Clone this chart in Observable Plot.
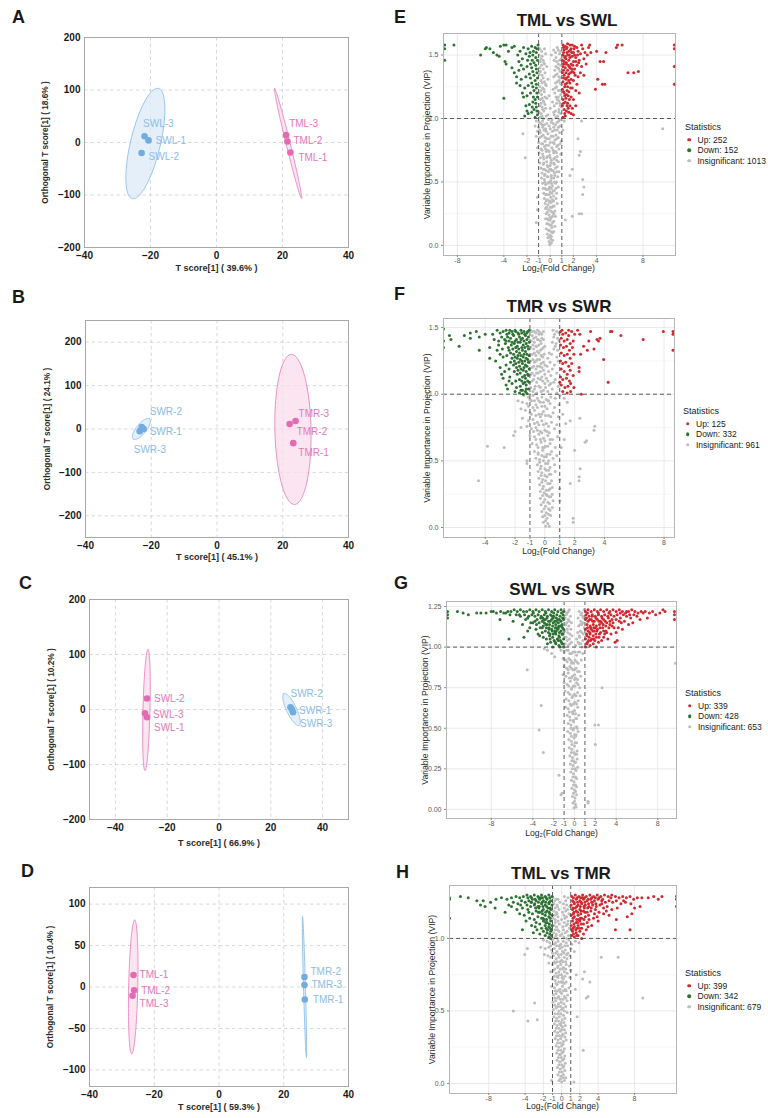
<!DOCTYPE html>
<html>
<head>
<meta charset="utf-8">
<script src="https://cdn.jsdelivr.net/npm/d3@7"></script>
<script src="https://cdn.jsdelivr.net/npm/@observablehq/plot@0.6"></script>
<style>
  body { margin: 0; background: #fff; }
  #page { position: relative; width: 768px; height: 1118px; overflow: hidden; background: #fff;
          font-family: "Liberation Sans", Arial, Helvetica, sans-serif; }
  .abs { position: absolute; white-space: nowrap; line-height: 1; }
  .letter { font-weight: bold; font-size: 18px; color: #1a1a1a; transform: translateY(-50%); }
  .vtitle { font-weight: bold; font-size: 17px; color: #1a1a1a; transform: translate(-50%, -50%); }
  .leg { font-size: 8.5px; color: #1a1a1a; transform: translateY(-50%); }
  .legdot { width: 3.6px; height: 3.6px; border-radius: 50%; transform: translate(-50%, -50%); }
</style>
</head>
<body>
<div id="page"></div>
<script>
// ---------- OPLS-DA score data (T score[1], orthogonal T score[1]) ----------
const samplesA = [
  {id: "SWL-1", group: "SWL", t: -20.6, o: 4},
  {id: "SWL-2", group: "SWL", t: -22.7, o: -20},
  {id: "SWL-3", group: "SWL", t: -21.8, o: 12},
  {id: "TML-1", group: "TML", t: 22.4, o: -19},
  {id: "TML-2", group: "TML", t: 21.5, o: 2},
  {id: "TML-3", group: "TML", t: 21.1, o: 14}
];
const samplesB = [
  {id: "SWR-1", group: "SWR", t: -22.3, o: 0},
  {id: "SWR-2", group: "SWR", t: -22.9, o: 4.6},
  {id: "SWR-3", group: "SWR", t: -23.5, o: -5},
  {id: "TMR-1", group: "TMR", t: 23.2, o: -32.6},
  {id: "TMR-2", group: "TMR", t: 22.1, o: 11.6},
  {id: "TMR-3", group: "TMR", t: 23.9, o: 18.6}
];
const samplesC = [
  {id: "SWL-1", group: "SWL", t: -27.8, o: -14},
  {id: "SWL-2", group: "SWL", t: -27.8, o: 20},
  {id: "SWL-3", group: "SWL", t: -28.6, o: -7},
  {id: "SWR-1", group: "SWR", t: 28.2, o: 0},
  {id: "SWR-2", group: "SWR", t: 27.6, o: 4},
  {id: "SWR-3", group: "SWR", t: 28.6, o: -5}
];
const samplesD = [
  {id: "TML-1", group: "TML", t: -26.4, o: 14.5},
  {id: "TML-2", group: "TML", t: -26.2, o: -4},
  {id: "TML-3", group: "TML", t: -26.7, o: -10.5},
  {id: "TMR-1", group: "TMR", t: 26.5, o: -15},
  {id: "TMR-2", group: "TMR", t: 26.4, o: 12},
  {id: "TMR-3", group: "TMR", t: 26.4, o: 2.5}
];

// confidence ellipses: centre and the two semi-axis vectors, in score units
const ellipsesA = [
  {group: "SWL", cx: -21.55, cy: -2, ax: 3.95, ay: 105, bx: 4.4, by: -6.5},
  {group: "TML", cx: 21.7, cy: -2, ax: -4.1, ay: 105, bx: 0.6, by: 0.9}
];
const ellipsesB = [
  {group: "SWR", cx: -23, cy: 0, ax: 2.48, ay: 23.2, bx: 1.18, by: -7.3},
  {group: "TMR", cx: 23.1, cy: -1, ax: -0.46, ay: 173, bx: 5.5, by: 0}
];
const ellipsesC = [
  {group: "SWL", cx: -28, cy: -1, ax: 0.58, ay: 110, bx: 1.35, by: 0},
  {group: "SWR", cx: 28, cy: 0, ax: -2.9, ay: 29, bx: 1.74, by: 3.8}
];
const ellipsesD = [
  {group: "TML", cx: -26.5, cy: 0, ax: 0.46, ay: 80.7, bx: 1.4, by: 0},
  {group: "TMR", cx: 26.4, cy: 0, ax: -0.6, ay: 85, bx: 0.3, by: 0}
];

const varianceT = ["39.6%", "45.1%", "66.9%", "59.3%"];
const varianceO = ["18.6%", "24.1%", "10.2%", "10.4%"];

// ---------- volcano data: log2 fold change, VIP ----------
const upE = `1.1,1.58 1.3,1.57 1.5,1.59 1.7,1.58 1.9,1.58 2.1,1.57 2.3,1.56 2.7,1.58 3.4,1.58 3.3,1.56
1.2,1.54 1.4,1.55 1.6,1.53 1.8,1.55 2.0,1.52 2.4,1.53 2.6,1.51 2.8,1.55 3.0,1.52 3.2,1.5
1.1,1.5 1.3,1.49 1.5,1.5 1.7,1.48 1.9,1.49 2.2,1.48 2.5,1.46 2.9,1.47 3.5,1.52 1.05,1.46
1.2,1.45 1.4,1.44 1.6,1.46 1.8,1.43 2.0,1.45 2.3,1.42 2.7,1.41 3.1,1.43 1.1,1.41 1.3,1.4
1.5,1.38 1.7,1.4 1.9,1.37 2.1,1.39 2.6,1.36 2.4,1.33 2.9,1.34 1.05,1.36 1.2,1.34 1.4,1.32
1.6,1.35 1.8,1.31 2.0,1.3 2.3,1.27 1.1,1.29 1.3,1.27 1.5,1.25 1.7,1.28 1.9,1.24 2.2,1.22
2.5,1.2 1.05,1.23 1.2,1.2 1.4,1.19 1.6,1.21 1.8,1.17 2.0,1.15 1.1,1.15 1.3,1.13 1.5,1.12
1.7,1.1 1.9,1.08 2.2,1.1 1.05,1.1 1.2,1.07 1.4,1.06 1.6,1.05 1.8,1.04 2.0,1.03 1.3,1.02
1.1,1.01 1.15,1.52 1.35,1.47 1.55,1.42 1.75,1.36 1.25,1.18 1.45,1.28 1.65,1.15 2.15,1.34 2.45,1.44
4.0,1.53 4.3,1.45 4.6,1.45 4.8,1.52 5.7,1.56 5.8,1.58 6.2,1.58 3.9,1.23 4.1,1.31 4.5,1.27
4.7,1.27 6.7,1.36 7.2,1.36 7.6,1.37 10.7,1.58 10.7,1.55 10.7,1.41 10.7,1.27
1.15,1.56 1.45,1.56 1.75,1.54 2.05,1.55 1.25,1.48 1.45,1.52 1.65,1.5 1.85,1.52 2.1,1.5 2.35,1.5
1.15,1.43 1.35,1.43 1.65,1.41 1.95,1.42 2.2,1.45 1.15,1.38 1.35,1.36 1.55,1.33 1.85,1.39 2.05,1.36
1.15,1.32 1.35,1.31 1.6,1.3 1.25,1.25 1.45,1.22 1.75,1.24 1.15,1.21 1.35,1.16 1.55,1.18 1.15,1.12
1.45,1.1 1.25,1.04 1.55,1.08`;
const downE = `-1.05,1.58 -1.3,1.56 -1.6,1.57 -1.9,1.55 -2.3,1.56 -2.6,1.53 -3.1,1.57 -3.3,1.56 -3.6,1.53 -3.8,1.58
-4.0,1.58 -4.3,1.57 -4.6,1.5 -4.4,1.49 -4.9,1.52 -5.2,1.55 -5.5,1.56 -5.6,1.55 -6.0,1.5 -3.9,1.45
-3.8,1.43 -1.2,1.52 -1.5,1.5 -1.8,1.49 -2.1,1.51 -2.4,1.47 -2.8,1.5 -2.7,1.45 -2.5,1.42 -3.3,1.4
-1.1,1.46 -1.4,1.44 -1.7,1.43 -2.0,1.41 -2.3,1.39 -2.7,1.38 -3.1,1.36 -2.9,1.33 -1.2,1.39 -1.5,1.37
-1.8,1.35 -2.1,1.33 -2.5,1.31 -2.9,1.28 -1.1,1.32 -1.3,1.3 -1.6,1.28 -1.9,1.26 -2.2,1.24 -2.6,1.26
-1.2,1.24 -1.4,1.22 -1.7,1.2 -2.0,1.18 -2.3,1.17 -1.1,1.17 -1.3,1.15 -1.5,1.13 -1.8,1.11 -2.1,1.1
-1.2,1.09 -1.4,1.07 -1.6,1.05 -1.9,1.04 -2.2,1.02 -1.1,1.03 -1.3,1.01 -4.0,1.16 -8.3,1.58 -9.1,1.58
-9.1,1.55 -9.1,1.46 -2.4,1.2 -2.0,1.06
-1.15,1.55 -1.45,1.53 -1.75,1.52 -1.25,1.48 -1.55,1.46 -1.95,1.46 -1.25,1.42 -1.6,1.4 -1.15,1.36 -1.4,1.34
-1.7,1.32 -1.2,1.27 -1.5,1.25 -1.15,1.2 -1.45,1.17 -1.25,1.12 -1.55,1.09 -1.15,1.06`;
const nsE = `-0.9,1.55 0.3,1.54 0.6,1.56 0.9,1.53 -0.95,1.5 -0.7,1.49 -0.4,1.51 0.1,1.5 0.5,1.48 0.8,1.51
0.95,1.47 -0.85,1.45 -0.55,1.44 0.35,1.46 0.7,1.43 0.9,1.42 -0.9,1.4 -0.6,1.39 -0.3,1.41 0.4,1.38
0.65,1.4 0.85,1.37 -0.95,1.35 -0.7,1.34 -0.45,1.36 0.3,1.33 0.6,1.35 0.9,1.32 -0.8,1.3 -0.5,1.29
-0.2,1.31 0.45,1.28 0.75,1.3 0.95,1.27 -0.9,1.25 -0.65,1.24 -0.35,1.26 0.25,1.23 0.55,1.25 0.85,1.22
-0.95,1.2 -0.75,1.19 -0.5,1.21 -0.1,1.18 0.4,1.2 0.7,1.17 0.9,1.19 -0.85,1.15 -0.6,1.14 -0.3,1.16
0.2,1.13 0.6,1.15 0.85,1.12 -0.9,1.1 -0.7,1.09 -0.45,1.11 0.0,1.08 0.35,1.1 0.75,1.07 0.95,1.09
-0.95,1.05 -0.8,1.04 -0.55,1.06 -0.2,1.03 0.3,1.05 0.65,1.02 0.9,1.04 -0.85,1.01 -0.6,1.0 -0.35,1.02
0.15,0.99 0.5,1.01 0.8,0.99 -1.2,0.98 -0.95,0.97 -0.65,0.98 -0.3,0.96 0.1,0.97 0.45,0.95 0.75,0.98
1.2,0.98 2.7,0.98 -1.3,0.94 -1.0,0.93 -0.7,0.95 -0.4,0.92 -0.1,0.94 0.3,0.93 0.6,0.91 0.85,0.94
-1.1,0.9 -0.85,0.89 -0.55,0.91 -0.2,0.88 0.2,0.9 0.5,0.87 0.8,0.89 1.1,0.91 -2.35,0.88 -1.2,0.86
-0.9,0.85 -0.6,0.87 -0.3,0.84 0.1,0.86 0.4,0.83 0.7,0.85 0.95,0.82 2.4,0.84 -1.0,0.81 -0.75,0.8
-0.45,0.82 -0.15,0.79 0.25,0.81 0.55,0.78 0.85,0.8 -1.1,0.77 -0.8,0.76 -0.5,0.78 -0.2,0.75 0.15,0.77
0.45,0.74 0.75,0.76 2.6,0.74 -0.95,0.73 -0.65,0.72 -0.35,0.74 -0.05,0.71 0.3,0.73 0.6,0.7 0.9,0.72
2.5,0.71 -0.85,0.69 -0.55,0.68 -0.25,0.7 0.1,0.67 0.4,0.69 0.7,0.66 -2.15,0.69 -0.9,0.65 -0.6,0.64
-0.3,0.66 0.0,0.63 0.3,0.65 0.6,0.62 -0.8,0.61 -0.5,0.6 -0.2,0.62 0.15,0.59 0.45,0.61 0.75,0.58
1.9,0.6 -0.7,0.57 -0.45,0.56 -0.15,0.58 0.1,0.55 0.35,0.57 0.65,0.54 1.7,0.55 2.8,0.52 -0.75,0.53
-0.5,0.52 -0.25,0.54 0.05,0.51 0.3,0.53 0.55,0.5 -0.65,0.49 -0.4,0.48 -0.1,0.5 0.2,0.47 0.45,0.49
0.7,0.46 2.9,0.46 -0.6,0.45 -0.35,0.44 -0.05,0.46 0.25,0.43 0.5,0.45 -0.55,0.41 -0.3,0.4 0.0,0.42
0.3,0.39 0.55,0.41 2.8,0.4 -1.1,0.38 -0.5,0.37 -0.25,0.36 0.05,0.38 0.3,0.35 0.5,0.37 -0.45,0.33
-0.2,0.32 0.1,0.34 0.35,0.31 0.6,0.33 -0.4,0.29 -0.15,0.28 0.15,0.3 0.4,0.27 -1.1,0.28 -0.35,0.25
-0.1,0.24 0.2,0.26 0.45,0.23 1.9,0.23 2.5,0.25 2.7,0.25 -0.4,0.21 -0.15,0.2 0.1,0.22 0.3,0.19
-1.2,0.18 -0.3,0.17 -0.05,0.16 0.2,0.18 0.4,0.15 1.3,0.2 -0.35,0.13 -0.1,0.12 0.15,0.14 0.3,0.11
-0.25,0.09 0.0,0.08 0.2,0.1 -0.2,0.06 0.05,0.05 0.2,0.04 -0.1,0.03 0.1,0.02 0.0,0.01 -0.05,0.005
9.7,0.92 0.0,0.2 -0.05,0.35 0.05,0.6 -0.1,0.45
-0.75,1.53 -0.5,1.55 0.45,1.52 0.7,1.54 -0.8,1.47 -0.6,1.46 0.55,1.45 0.8,1.46 -0.75,1.42 -0.5,1.43
0.5,1.41 0.75,1.39 -0.85,1.37 -0.6,1.32 0.45,1.34 0.75,1.33 -0.7,1.28 -0.4,1.27 0.6,1.29 0.85,1.28
-0.8,1.22 -0.55,1.23 0.45,1.24 0.7,1.22 -0.7,1.16 -0.45,1.17 0.5,1.17 0.75,1.14 -0.8,1.12 -0.55,1.13
0.55,1.12 0.85,1.1 -0.65,1.07 -0.4,1.08 0.45,1.06 0.75,1.05 -0.7,1.02 0.35,1.03 -0.8,0.96 -0.5,0.95
-0.15,0.99 0.25,0.96 0.6,0.97 -0.9,0.91 -0.65,0.93 -0.35,0.9 0.0,0.92 0.4,0.91 0.7,0.93 -0.75,0.86
-0.45,0.85 -0.1,0.84 0.25,0.86 0.55,0.84 -0.65,0.8 -0.35,0.79 0.0,0.81 0.35,0.8 0.65,0.79 -0.7,0.75
-0.4,0.76 -0.1,0.74 0.25,0.75 0.55,0.73 -0.6,0.7 -0.3,0.69 0.0,0.69 0.3,0.68 0.55,0.67 -0.55,0.65
-0.25,0.63 0.05,0.65 0.35,0.64 -0.6,0.6 -0.35,0.59 -0.05,0.6 0.25,0.59 0.55,0.58 -0.5,0.55 -0.2,0.54
0.1,0.53 0.4,0.55 -0.45,0.5 -0.2,0.49 0.1,0.49 0.35,0.5 -0.45,0.45 -0.15,0.44 0.1,0.45 0.35,0.43
-0.4,0.4 -0.1,0.4 0.15,0.41 -0.35,0.35 -0.05,0.34 0.2,0.36 -0.3,0.3 0.0,0.3 0.25,0.31 -0.25,0.26
0.05,0.27 0.3,0.25 -0.25,0.21 0.0,0.22 0.2,0.23 -0.2,0.17 0.1,0.16 -0.15,0.12 0.05,0.11 -0.1,0.07
0.1,0.07`;

const upF = `1.05,1.47 1.2,1.45 1.4,1.46 1.6,1.44 1.8,1.47 2.0,1.45 2.2,1.48 1.1,1.42 1.3,1.4 1.5,1.41
1.7,1.38 1.9,1.4 2.35,1.45 1.05,1.37 1.25,1.35 1.45,1.36 1.65,1.33 1.85,1.35 2.6,1.36 2.85,1.33
2.95,1.4 3.3,1.34 3.6,1.4 3.07,1.47 3.5,1.41 3.7,1.42 1.1,1.31 1.3,1.29 1.5,1.3 1.7,1.27
1.95,1.3 2.4,1.3 1.05,1.25 1.2,1.23 1.4,1.24 1.6,1.21 1.8,1.23 2.3,1.2 2.3,1.17 1.1,1.19
1.3,1.17 1.5,1.15 1.7,1.18 1.05,1.13 1.2,1.11 1.45,1.12 1.65,1.1 1.9,1.14 1.1,1.07 1.35,1.05
1.73,1.08 1.95,1.05 1.55,1.06 1.2,1.02 1.5,1.01 1.73,1.02 2.45,1.0 1.0,1.09 3.95,1.26 4.25,1.09
4.4,1.47 4.5,1.47 5.1,1.44 6.6,1.41 7.95,1.47 8.6,1.47 8.6,1.45 8.6,1.33 1.15,1.48 1.6,1.48`;
const downF = `-1.05,1.48 -1.2,1.46 -1.4,1.47 -1.6,1.48 -1.8,1.46 -2.0,1.48 -2.2,1.47 -2.4,1.46 -2.6,1.48 -2.8,1.47
-3.0,1.46 -3.2,1.48 -3.5,1.45 -4.0,1.45 -4.4,1.43 -4.6,1.47 -5.0,1.46 -5.0,1.42 -5.4,1.44 -6.4,1.44
-6.3,1.41 -5.75,1.36 -6.8,1.49 -6.8,1.4 -6.8,1.35 -4.4,1.33 -3.7,1.35 -3.7,1.27 -1.1,1.43 -1.3,1.44
-1.5,1.42 -1.7,1.43 -1.9,1.41 -2.1,1.44 -2.3,1.42 -2.5,1.43 -2.7,1.41 -2.9,1.43 -3.1,1.4 -3.4,1.41
-1.05,1.39 -1.25,1.38 -1.45,1.37 -1.65,1.39 -1.85,1.36 -2.05,1.38 -2.25,1.37 -2.45,1.35 -2.65,1.38 -2.85,1.34
-3.2,1.33 -1.1,1.34 -1.3,1.32 -1.5,1.33 -1.7,1.31 -1.9,1.32 -2.1,1.3 -2.3,1.31 -2.55,1.29 -2.8,1.28
-3.0,1.3 -1.05,1.29 -1.25,1.27 -1.45,1.28 -1.65,1.26 -1.85,1.27 -2.05,1.25 -2.3,1.24 -2.6,1.22 -1.1,1.24
-1.3,1.22 -1.5,1.23 -1.7,1.21 -1.9,1.2 -2.1,1.22 -2.4,1.19 -2.7,1.17 -1.05,1.19 -1.25,1.17 -1.45,1.18
-1.65,1.16 -1.85,1.15 -2.05,1.17 -2.35,1.13 -2.8,1.12 -1.1,1.14 -1.3,1.12 -1.5,1.13 -1.7,1.11 -1.95,1.1
-2.2,1.08 -2.6,1.07 -1.05,1.09 -1.25,1.07 -1.45,1.08 -1.65,1.06 -1.9,1.05 -2.5,1.04 -1.1,1.04 -1.3,1.02
-1.5,1.03 -1.7,1.01 -2.0,1.02 -1.2,1.005 -1.45,1.0 -3.0,1.2 -3.3,1.25 -2.9,1.15 -2.4,1.1 -3.1,1.37
-1.15,1.47 -1.35,1.45 -1.55,1.46 -1.75,1.45 -1.95,1.47 -2.15,1.45 -2.35,1.48 -2.55,1.45 -1.2,1.41 -1.4,1.4
-1.6,1.41 -1.8,1.39 -2.0,1.4 -2.2,1.39 -2.4,1.4 -2.6,1.4 -1.15,1.36 -1.35,1.35 -1.55,1.35 -1.75,1.34
-1.95,1.35 -2.15,1.34 -2.4,1.33 -1.2,1.3 -1.4,1.3 -1.6,1.29 -1.8,1.29 -2.0,1.28 -2.2,1.27 -1.15,1.26
-1.35,1.25 -1.55,1.25 -1.75,1.24 -1.95,1.23 -1.2,1.21 -1.4,1.2 -1.6,1.19 -1.8,1.18 -1.15,1.15 -1.35,1.14
-1.55,1.1 -1.15,1.1 -1.35,1.09 -1.25,1.04 -1.6,1.03`;
const nsF = `-0.95,1.48 -0.7,1.47 -0.5,1.48 -0.3,1.46 -0.1,1.47 0.55,1.48 0.8,1.47 0.95,1.46 -0.85,1.44 -0.6,1.43
-0.4,1.45 -0.2,1.42 0.6,1.43 0.85,1.42 -0.9,1.4 -0.7,1.39 -0.45,1.41 -0.25,1.38 0.0,1.36 0.5,1.39
0.75,1.38 0.95,1.4 -0.95,1.35 -0.75,1.34 -0.55,1.36 -0.3,1.33 -0.1,1.35 0.3,1.31 0.6,1.34 0.85,1.33
-0.85,1.3 -0.6,1.29 -0.4,1.31 -0.15,1.28 0.2,1.27 0.45,1.3 0.8,1.28 -0.95,1.25 -0.7,1.24 -0.5,1.26
-0.25,1.23 0.0,1.22 0.35,1.24 0.65,1.22 0.9,1.25 -0.85,1.2 -0.6,1.19 -0.35,1.21 -0.1,1.18 0.25,1.17
0.5,1.19 0.8,1.16 -0.95,1.15 -0.7,1.14 -0.45,1.16 -0.2,1.13 0.1,1.12 0.4,1.14 0.7,1.11 -0.85,1.1
-0.55,1.09 -0.3,1.11 0.0,1.08 0.3,1.07 0.6,1.09 0.9,1.06 -0.95,1.05 -0.7,1.04 -0.4,1.06 -0.1,1.03
0.2,1.02 0.5,1.04 0.8,1.01 -1.4,0.99 -1.1,0.98 -0.8,0.99 -0.5,0.97 -0.2,0.98 0.1,0.96 0.4,0.98
0.7,0.97 1.0,0.99 1.3,0.97 -1.8,0.95 -1.5,0.94 -1.2,0.93 -0.9,0.95 -0.6,0.92 -0.3,0.94 0.0,0.91
0.35,0.93 0.65,0.9 0.95,0.92 1.5,0.94 -1.6,0.89 -1.3,0.88 -1.0,0.86 -0.7,0.88 -0.4,0.85 -0.1,0.87
0.25,0.84 0.55,0.86 0.9,0.83 1.2,0.85 2.35,0.82 -1.5,0.82 -1.1,0.8 -0.8,0.81 -0.5,0.79 -0.2,0.8
0.1,0.78 0.45,0.79 0.8,0.77 1.4,0.78 1.7,0.8 -1.6,0.75 -1.2,0.76 -0.9,0.74 -0.6,0.75 -0.3,0.72
0.0,0.73 0.3,0.71 0.65,0.74 1.0,0.72 3.35,0.76 3.3,0.73 -2.0,0.72 -2.1,0.69 -1.0,0.69 -0.7,0.68
-0.4,0.7 -0.1,0.67 0.2,0.69 0.5,0.66 0.85,0.68 1.3,0.66 2.8,0.65 2.7,0.64 -0.85,0.63 -0.55,0.62
-0.25,0.64 0.05,0.61 0.35,0.63 0.7,0.6 1.1,0.6 -3.85,0.61 -2.73,0.6 -0.7,0.57 -0.45,0.56 -0.15,0.58
0.15,0.55 0.45,0.57 0.8,0.54 2.0,0.58 -0.6,0.52 -0.35,0.51 -0.05,0.53 0.25,0.5 0.55,0.52 -1.2,0.5
-1.2,0.48 -0.5,0.47 -0.25,0.46 0.05,0.48 0.35,0.45 0.65,0.47 2.37,0.44 -0.45,0.42 -0.2,0.41 0.1,0.43
0.4,0.4 0.7,0.42 2.3,0.38 2.3,0.35 -4.45,0.35 -0.4,0.37 -0.15,0.36 0.15,0.38 0.45,0.35 1.7,0.33
1.0,0.36 -0.35,0.32 -0.1,0.31 0.2,0.33 0.5,0.3 -0.3,0.27 -0.05,0.26 0.25,0.28 0.5,0.25 1.0,0.29
-0.3,0.22 0.0,0.21 0.3,0.23 0.55,0.2 -0.25,0.17 0.05,0.16 0.3,0.18 0.5,0.15 1.0,0.2 -0.2,0.12
0.1,0.11 0.35,0.13 -0.15,0.08 0.15,0.07 0.4,0.09 1.9,0.07 1.9,0.04 -0.1,0.04 0.2,0.03 0.05,0.01
0.3,0.01 -0.05,0.6 0.1,0.25 -0.2,0.85 0.2,0.95
-0.85,1.47 -0.6,1.46 -0.4,1.47 -0.2,1.45 -0.75,1.42 -0.5,1.41 -0.3,1.4 -0.1,1.41 -0.8,1.37 -0.6,1.36
-0.4,1.37 -0.2,1.34 -0.7,1.31 -0.5,1.32 -0.25,1.29 -0.05,1.3 0.65,1.45 0.7,1.36 -0.8,1.26 -0.6,1.25
-0.35,1.26 -0.1,1.24 -0.75,1.21 -0.5,1.21 -0.2,1.2 0.15,1.21 -0.85,1.16 -0.55,1.16 -0.3,1.17 0.0,1.15
-0.75,1.11 -0.45,1.12 -0.15,1.1 0.2,1.1 -0.65,1.06 -0.3,1.05 0.05,1.05 0.4,1.08 -0.8,1.02 -0.55,1.01
-0.25,1.02 -1.0,0.96 -0.7,0.95 -0.4,0.95 -0.1,0.94 0.25,0.95 -1.1,0.91 -0.8,0.9 -0.5,0.9 -0.2,0.91
0.15,0.89 -0.9,0.85 -0.6,0.84 -0.3,0.83 0.05,0.84 0.4,0.83 -0.7,0.78 -0.4,0.77 -0.1,0.77 0.25,0.76
-0.75,0.72 -0.5,0.73 -0.2,0.71 0.15,0.72 -0.6,0.66 -0.3,0.66 0.0,0.65 0.35,0.66 -0.45,0.6 -0.15,0.6
0.2,0.61 -0.45,0.55 -0.2,0.54 0.1,0.53 0.35,0.55 -0.35,0.49 -0.1,0.5 0.2,0.48 -0.3,0.44 0.0,0.44
0.25,0.43 -0.25,0.39 0.0,0.39 0.3,0.4 -0.2,0.34 0.05,0.35 0.35,0.33 -0.15,0.29 0.1,0.28 0.35,0.29
-0.15,0.24 0.15,0.24 0.4,0.23 -0.1,0.19 0.2,0.19 -0.05,0.14 0.25,0.14 0.0,0.09 0.25,0.1 0.05,0.05`;

const upG = `1.05,1.22 1.3,1.23 1.6,1.22 1.9,1.23 2.2,1.22 2.5,1.23 2.8,1.22 3.1,1.23 3.4,1.22 3.7,1.23
4.0,1.22 4.3,1.23 4.6,1.22 4.9,1.21 5.2,1.22 5.5,1.23 5.8,1.22 6.1,1.21 6.4,1.22 6.8,1.22
7.2,1.21 7.5,1.22 7.8,1.2 8.2,1.21 8.7,1.22 8.5,1.23 9.6,1.22 9.6,1.2 9.6,1.17 1.1,1.2
1.4,1.19 1.7,1.2 2.0,1.19 2.3,1.2 2.6,1.19 2.9,1.2 3.2,1.19 3.5,1.2 3.8,1.19 4.1,1.2
4.4,1.18 4.7,1.2 5.0,1.19 5.4,1.18 5.7,1.2 6.0,1.19 6.6,1.21 6.3,1.17 7.0,1.18 1.05,1.17
1.3,1.16 1.6,1.17 1.9,1.16 2.2,1.17 2.5,1.16 2.8,1.17 3.1,1.15 3.4,1.16 3.7,1.15 4.0,1.17
4.5,1.15 4.8,1.16 5.2,1.14 5.6,1.15 1.2,1.14 1.5,1.13 1.8,1.14 2.1,1.13 2.4,1.14 2.7,1.12
3.0,1.13 3.3,1.12 3.6,1.13 4.2,1.12 4.6,1.11 1.05,1.11 1.3,1.1 1.6,1.11 1.9,1.1 2.2,1.11
2.5,1.09 2.8,1.1 3.1,1.09 3.5,1.08 4.0,1.09 1.2,1.07 1.5,1.08 1.8,1.07 2.1,1.06 2.4,1.08
2.8,1.06 3.2,1.05 1.05,1.05 1.35,1.04 1.65,1.05 1.95,1.04 2.3,1.03 2.6,1.04 3.9,1.03 4.1,1.04
1.2,1.02 1.5,1.01 1.8,1.02 2.1,1.0 1.05,1.0 1.4,1.06 1.7,1.19 2.0,1.12 2.3,1.21 2.6,1.15
2.9,1.08 3.3,1.21 3.6,1.17 1.25,1.21 4.4,1.21 5.0,1.22
1.15,1.18 1.45,1.17 1.75,1.16 2.05,1.18 2.35,1.16 2.65,1.18 2.95,1.16 3.25,1.18 1.25,1.12 1.55,1.12
1.85,1.12 2.15,1.1 2.45,1.12 2.75,1.14 1.15,1.08 1.45,1.09 1.75,1.1 2.05,1.08 2.35,1.06 1.25,1.03
1.55,1.04 1.85,1.05 1.15,1.02 3.0,1.1 3.4,1.14 3.8,1.12 4.3,1.16 5.3,1.2`;
const downG = `-1.05,1.22 -1.3,1.23 -1.6,1.22 -1.9,1.23 -2.2,1.22 -2.5,1.23 -2.8,1.22 -3.1,1.23 -3.4,1.22 -3.7,1.23
-4.0,1.22 -4.3,1.23 -4.6,1.22 -4.9,1.22 -5.2,1.23 -5.5,1.22 -5.8,1.23 -6.1,1.22 -6.4,1.22 -6.8,1.21
-7.1,1.22 -7.5,1.21 -8.0,1.22 -8.5,1.21 -9.0,1.21 -9.4,1.21 -10.2,1.2 -10.7,1.21 -11.25,1.22 -12.2,1.22
-12.2,1.2 -12.2,1.18 -1.1,1.2 -1.4,1.19 -1.7,1.2 -2.0,1.19 -2.3,1.2 -2.6,1.19 -2.9,1.2 -3.2,1.19
-3.5,1.2 -3.8,1.19 -4.1,1.2 -4.4,1.19 -4.8,1.2 -5.2,1.19 -5.6,1.2 -6.2,1.2 -7.16,1.17 -5.9,1.16
-1.05,1.17 -1.3,1.16 -1.6,1.17 -1.9,1.16 -2.2,1.17 -2.5,1.16 -2.8,1.17 -3.1,1.16 -3.4,1.15 -3.8,1.16
-4.2,1.15 -4.7,1.17 -1.2,1.14 -1.5,1.13 -1.8,1.14 -2.1,1.13 -2.4,1.14 -2.7,1.12 -3.0,1.13 -3.3,1.12
-3.7,1.11 -4.3,1.12 -1.05,1.11 -1.3,1.1 -1.6,1.11 -1.9,1.1 -2.2,1.11 -2.5,1.09 -2.8,1.1 -3.1,1.09
-3.5,1.08 -1.2,1.08 -1.5,1.07 -1.8,1.08 -2.1,1.06 -2.4,1.07 -2.7,1.05 -3.0,1.06 -1.05,1.05 -1.35,1.04
-1.65,1.05 -1.95,1.04 -2.3,1.03 -2.6,1.02 -1.2,1.02 -1.5,1.01 -1.8,1.02 -2.1,1.0 -1.05,1.0 -1.4,1.0
-6.3,1.05 -4.86,1.06 -1.25,1.21 -1.55,1.15 -1.85,1.09 -2.15,1.19 -2.45,1.12 -2.75,1.21 -3.05,1.18 -3.35,1.07
-3.65,1.14 -3.95,1.21 -1.15,1.12 -1.45,1.06 -1.75,1.18 -2.05,1.15 -2.35,1.08 -2.65,1.14 -4.5,1.1 -5.0,1.14
-1.1,1.08 -1.3,1.13 -1.7,1.12 -2.0,1.21 -2.9,1.15
-1.15,1.18 -1.45,1.17 -1.75,1.16 -2.05,1.18 -2.35,1.16 -2.65,1.18 -2.95,1.17 -3.25,1.18 -3.6,1.17 -1.25,1.13
-1.55,1.12 -1.85,1.12 -2.15,1.1 -2.45,1.11 -2.75,1.14 -3.1,1.12 -1.15,1.08 -1.45,1.09 -1.75,1.1 -2.05,1.08
-2.35,1.05 -1.25,1.03 -1.55,1.04 -1.85,1.03 -1.15,1.02 -4.0,1.15 -4.5,1.18 -5.3,1.2 -6.6,1.21 -7.8,1.22`;
const nsG = `-0.95,1.22 -0.7,1.21 -0.5,1.23 0.45,1.22 0.7,1.21 0.9,1.23 -0.9,1.18 -0.6,1.17 -0.4,1.19 0.35,1.18
0.6,1.16 0.85,1.18 -0.85,1.14 -0.55,1.13 -0.3,1.15 0.4,1.13 0.7,1.14 0.95,1.12 -0.95,1.1 -0.65,1.09
-0.35,1.11 0.3,1.09 0.55,1.1 0.85,1.08 -0.8,1.06 -0.5,1.05 -0.25,1.07 0.2,1.05 0.5,1.06 0.8,1.04
-0.9,1.02 -0.6,1.01 -0.3,1.03 0.1,1.01 0.45,1.02 0.75,1.0 -2.9,0.99 -2.6,0.98 -2.2,0.96 -1.9,0.94
-1.3,0.98 -1.0,0.97 -0.75,0.98 -0.45,0.96 -0.15,0.97 0.2,0.95 0.5,0.97 0.8,0.96 -1.1,0.93 -0.85,0.92
-0.55,0.93 -0.25,0.91 0.05,0.92 0.35,0.9 0.65,0.92 -4.54,0.86 -1.0,0.88 -0.75,0.87 -0.45,0.88 -0.15,0.86
0.15,0.87 0.45,0.85 -1.1,0.83 -0.85,0.82 -0.6,0.84 -0.3,0.81 0.0,0.83 0.3,0.8 0.6,0.82 -1.0,0.78
-0.7,0.77 -0.4,0.79 -0.1,0.76 0.2,0.78 0.5,0.75 2.65,0.75 -0.9,0.73 -0.6,0.72 -0.3,0.74 0.0,0.71
0.3,0.72 0.55,0.7 -0.8,0.68 -0.55,0.67 -0.25,0.69 0.05,0.66 0.35,0.67 -3.2,0.64 -0.85,0.63 -0.6,0.62
-0.3,0.64 0.0,0.61 0.3,0.63 -0.7,0.58 -0.45,0.57 -0.15,0.59 0.15,0.56 0.4,0.58 -0.6,0.53 -0.35,0.52
-0.1,0.54 0.2,0.51 1.95,0.52 2.3,0.52 -3.4,0.49 -0.65,0.48 -0.4,0.47 -0.15,0.49 0.15,0.46 0.35,0.48
-0.55,0.43 -0.3,0.42 -0.05,0.44 0.2,0.41 2.0,0.4 -0.5,0.38 -0.25,0.37 0.0,0.39 0.25,0.36 -3.0,0.35
-0.45,0.33 -0.2,0.32 0.05,0.34 0.25,0.31 -0.4,0.28 -0.15,0.27 0.1,0.29 0.3,0.26 -0.35,0.23 -0.1,0.22
0.15,0.24 -1.5,0.21 -0.3,0.18 -0.05,0.17 0.2,0.19 -0.25,0.13 0.0,0.12 0.2,0.14 -1.2,0.1 -1.3,0.09
-0.2,0.08 0.05,0.07 0.2,0.09 1.3,0.05 1.3,0.04 -0.15,0.04 0.1,0.03 -0.05,0.01 0.15,0.015 9.7,0.9
-0.2,0.6 0.1,0.45 -0.1,0.3 -0.3,0.9 0.0,0.8
-0.8,1.2 -0.6,1.22 0.6,1.2 0.8,1.19 -0.75,1.15 -0.5,1.16 0.55,1.14 0.8,1.15 -0.7,1.11 -0.45,1.08
0.45,1.07 0.7,1.09 -0.7,1.04 -0.45,1.02 0.35,1.03 0.6,1.02 -0.6,0.98 -0.3,0.96 0.05,0.97 0.35,0.97
-0.7,0.91 -0.4,0.92 -0.1,0.9 0.2,0.91 -0.6,0.86 -0.3,0.87 0.0,0.86 0.3,0.85 -0.5,0.81 -0.2,0.82
0.1,0.81 -0.55,0.76 -0.25,0.75 0.05,0.76 0.35,0.77 -0.45,0.71 -0.15,0.7 0.15,0.7 -0.4,0.65 -0.1,0.65
0.2,0.65 -0.5,0.6 -0.2,0.6 0.1,0.59 -0.4,0.55 -0.1,0.55 0.2,0.56 -0.35,0.5 -0.05,0.5 0.25,0.5
-0.3,0.45 0.0,0.46 -0.25,0.4 0.05,0.41 -0.3,0.35 -0.05,0.35 0.2,0.34 -0.25,0.3 0.0,0.29 -0.2,0.25
0.05,0.25 -0.15,0.2 0.1,0.2 -0.1,0.15 0.1,0.15 -0.1,0.1 0.1,0.11 0.0,0.05`;

const upH = `1.1,1.29 1.5,1.3 1.9,1.29 2.3,1.3 2.7,1.29 3.1,1.3 3.5,1.29 3.9,1.3 4.3,1.29 4.7,1.3
5.1,1.29 5.5,1.3 5.9,1.29 6.3,1.28 6.7,1.29 7.1,1.28 7.5,1.29 7.9,1.27 8.3,1.28 8.8,1.28
9.5,1.28 10.1,1.29 10.6,1.27 11.0,1.29 12.6,1.29 12.6,1.27 12.6,1.22 1.2,1.26 1.6,1.27 2.0,1.26
2.4,1.27 2.8,1.26 3.2,1.27 3.6,1.26 4.0,1.27 4.4,1.26 4.8,1.25 5.2,1.26 5.6,1.25 6.0,1.26
6.5,1.24 7.0,1.25 7.6,1.24 8.0,1.21 8.6,1.22 1.05,1.23 1.4,1.24 1.8,1.23 2.2,1.24 2.6,1.23
3.0,1.22 3.4,1.23 3.8,1.22 4.2,1.23 4.6,1.21 5.0,1.22 5.5,1.2 6.1,1.21 1.2,1.2 1.6,1.19
2.0,1.2 2.4,1.19 2.8,1.18 3.2,1.19 3.6,1.17 4.1,1.18 4.6,1.17 5.2,1.16 7.7,1.17 7.2,1.15
1.05,1.16 1.4,1.15 1.8,1.16 2.2,1.14 2.6,1.15 3.0,1.13 3.5,1.14 4.0,1.12 6.0,1.13 1.2,1.12
1.6,1.11 2.0,1.12 2.4,1.1 2.8,1.11 3.3,1.09 1.05,1.09 1.4,1.08 1.8,1.09 2.2,1.07 2.7,1.06
5.9,1.06 7.5,1.06 1.2,1.05 1.6,1.04 2.0,1.05 2.4,1.03 1.1,1.02 1.4,1.01 1.8,1.02 2.2,1.0
1.3,1.17 1.7,1.07 2.1,1.17 2.5,1.21 2.9,1.08 3.3,1.25 3.7,1.2 4.4,1.24 5.4,1.28 6.8,1.26
1.5,1.21 1.9,1.13 2.3,1.28 4.9,1.19 3.9,1.15 1.15,1.06
1.3,1.28 1.7,1.28 2.1,1.28 2.5,1.28 2.9,1.27 3.3,1.28 3.7,1.28 4.1,1.28 4.5,1.27 1.35,1.25
1.75,1.25 2.15,1.25 2.55,1.25 2.95,1.24 3.35,1.25 3.75,1.24 1.25,1.21 1.65,1.22 2.05,1.22 2.45,1.22
2.85,1.21 3.25,1.21 1.35,1.18 1.75,1.18 2.15,1.19 2.55,1.18 2.95,1.16 1.25,1.14 1.65,1.13 2.05,1.14
2.45,1.13 1.35,1.1 1.75,1.11 2.15,1.1 1.25,1.07 1.55,1.06 1.95,1.07 1.3,1.03 1.65,1.02`;
const downH = `-1.05,1.29 -1.4,1.3 -1.8,1.29 -2.2,1.3 -2.6,1.29 -3.0,1.3 -3.4,1.29 -3.8,1.3 -4.2,1.29 -4.6,1.28
-5.0,1.29 -5.5,1.28 -6.0,1.27 -6.6,1.28 -7.2,1.27 -7.8,1.25 -8.6,1.26 -9.3,1.26 -10.25,1.28 -11.1,1.29
-12.3,1.28 -12.3,1.27 -12.3,1.14 -8.9,1.23 -8.4,1.22 -7.3,1.21 -6.2,1.18 -1.2,1.26 -1.6,1.27 -2.0,1.26
-2.4,1.27 -2.8,1.26 -3.2,1.27 -3.6,1.26 -4.0,1.25 -4.4,1.26 -4.8,1.24 -5.3,1.25 -5.8,1.23 -1.05,1.23
-1.4,1.24 -1.8,1.23 -2.2,1.24 -2.6,1.22 -3.0,1.23 -3.4,1.22 -3.8,1.23 -4.3,1.21 -4.9,1.2 -1.2,1.2
-1.6,1.19 -2.0,1.2 -2.4,1.18 -2.8,1.19 -3.2,1.17 -3.6,1.18 -4.1,1.16 -4.6,1.17 -1.05,1.16 -1.4,1.15
-1.8,1.16 -2.2,1.14 -2.6,1.15 -3.0,1.13 -3.5,1.14 -4.3,1.06 -1.2,1.12 -1.6,1.11 -2.0,1.12 -2.4,1.1
-2.8,1.11 -3.3,1.09 -1.05,1.09 -1.4,1.08 -1.8,1.09 -2.2,1.07 -2.7,1.06 -1.2,1.05 -1.6,1.04 -2.0,1.05
-2.4,1.03 -1.1,1.02 -1.4,1.01 -1.8,1.02 -1.2,1.0 -1.3,1.17 -1.7,1.07 -2.1,1.17 -2.5,1.21 -2.9,1.08
-3.3,1.25 -3.7,1.2 -4.5,1.23 -1.5,1.21 -1.9,1.13 -2.3,1.28 -3.9,1.12 -1.15,1.06 -5.5,1.22 -3.1,1.04
-1.3,1.28 -1.7,1.28 -2.1,1.28 -2.5,1.28 -2.9,1.27 -3.3,1.28 -3.7,1.28 -1.35,1.25 -1.75,1.25 -2.15,1.25
-2.55,1.25 -2.95,1.24 -3.35,1.25 -1.25,1.21 -1.65,1.22 -2.05,1.22 -2.45,1.22 -2.85,1.21 -1.35,1.18 -1.75,1.18
-2.15,1.19 -2.55,1.18 -1.25,1.14 -1.65,1.13 -2.05,1.14 -1.35,1.1 -1.75,1.11 -1.25,1.07 -1.55,1.06 -1.3,1.03`;
const nsH = `-0.95,1.28 -0.6,1.27 0.3,1.29 0.7,1.28 -0.85,1.24 -0.5,1.23 -0.2,1.25 0.2,1.24 0.55,1.23 0.9,1.22
-0.9,1.19 -0.6,1.18 -0.3,1.2 0.1,1.18 0.45,1.19 0.8,1.17 -0.95,1.14 -0.7,1.13 -0.4,1.15 0.0,1.13
0.35,1.14 0.7,1.12 -0.85,1.09 -0.55,1.08 -0.25,1.1 0.15,1.08 0.5,1.09 0.85,1.07 -0.9,1.04 -0.6,1.03
-0.3,1.05 0.05,1.03 0.4,1.04 0.75,1.02 -0.8,1.005 -0.45,1.0 0.25,1.01 -2.0,0.99 -1.6,0.98 -1.3,0.97
-1.0,0.99 -0.7,0.97 -0.4,0.98 -0.1,0.96 0.2,0.98 0.5,0.97 0.8,0.99 1.1,0.96 1.5,0.98 1.9,0.97
-2.3,0.94 -1.8,0.93 -1.4,0.94 -1.1,0.92 -0.8,0.93 -0.5,0.91 -0.2,0.93 0.1,0.91 0.4,0.92 0.7,0.9
1.0,0.93 1.4,0.91 -3.76,0.93 -4.05,0.89 -1.9,0.89 -1.5,0.88 -1.2,0.87 -0.9,0.88 -0.6,0.86 -0.3,0.87
0.0,0.85 0.3,0.87 0.6,0.86 0.9,0.88 4.35,0.87 6.2,0.87 -1.4,0.83 -1.0,0.82 -0.7,0.83 -0.4,0.81
-0.1,0.82 0.2,0.8 0.5,0.82 0.85,0.81 -1.2,0.77 -0.9,0.78 -0.6,0.76 -0.3,0.77 0.0,0.75 0.3,0.77
0.6,0.76 1.0,0.78 2.5,0.77 1.6,0.75 -1.0,0.72 -0.7,0.71 -0.4,0.73 -0.1,0.7 0.2,0.72 0.5,0.7
0.9,0.73 2.3,0.72 3.1,0.7 -1.1,0.67 -0.8,0.66 -0.5,0.68 -0.2,0.65 0.1,0.67 0.4,0.65 0.8,0.66
1.5,0.65 -0.9,0.61 -0.6,0.62 -0.3,0.6 0.0,0.62 0.3,0.6 0.65,0.61 2.7,0.59 2.9,0.6 8.9,0.59
-0.95,0.56 -0.65,0.57 -0.35,0.55 -0.05,0.56 0.25,0.55 0.6,0.57 -2.96,0.555 -5.3,0.5 -0.9,0.51 -0.6,0.52
-0.3,0.5 0.0,0.51 0.3,0.5 0.6,0.49 1.7,0.46 -0.85,0.46 -0.55,0.45 -0.25,0.46 0.05,0.44 0.35,0.45
-3.7,0.43 -2.66,0.44 -0.8,0.41 -0.5,0.4 -0.2,0.41 0.1,0.39 0.4,0.4 -0.75,0.36 -0.45,0.35 -0.15,0.36
0.15,0.34 0.45,0.35 -0.7,0.31 -0.4,0.3 -0.1,0.31 0.2,0.29 0.5,0.3 -0.6,0.26 -0.3,0.25 0.0,0.26
0.3,0.24 2.37,0.23 -0.55,0.21 -0.25,0.2 0.05,0.21 0.35,0.19 -0.5,0.16 -0.2,0.15 0.1,0.16 0.4,0.14
-0.45,0.11 -0.15,0.1 0.15,0.11 0.35,0.09 -0.4,0.06 -0.1,0.05 0.2,0.06 0.45,0.04 -0.3,0.02 0.0,0.01
0.3,0.02 1.35,0.01 -1.1,0.02 -0.05,0.4 0.1,0.7 -0.15,0.2
-0.75,1.26 -0.4,1.27 0.45,1.26 -0.7,1.21 -0.45,1.22 0.3,1.21 0.65,1.2 -0.75,1.16 -0.5,1.17 0.25,1.16
0.55,1.15 -0.7,1.11 -0.4,1.12 0.3,1.11 0.65,1.1 -0.7,1.06 -0.45,1.06 0.2,1.06 0.6,1.05 -0.6,1.02
-0.15,1.02 0.55,1.0 -1.2,0.95 -0.85,0.96 -0.55,0.95 -0.25,0.95 0.05,0.94 0.35,0.95 0.65,0.95 -1.0,0.9
-0.65,0.9 -0.35,0.89 -0.05,0.89 0.25,0.9 0.55,0.89 -0.8,0.84 -0.5,0.84 -0.2,0.84 0.15,0.84 0.45,0.84
-0.75,0.79 -0.45,0.8 -0.15,0.79 0.15,0.79 0.45,0.79 -0.8,0.74 -0.5,0.74 -0.25,0.75 0.05,0.73 0.35,0.74
-0.6,0.69 -0.3,0.7 0.0,0.7 0.3,0.69 -0.7,0.64 -0.45,0.64 -0.15,0.63 0.2,0.64 0.5,0.64 -0.75,0.59
-0.45,0.59 -0.15,0.58 0.15,0.58 0.45,0.59 -0.75,0.54 -0.45,0.53 -0.15,0.53 0.15,0.52 0.45,0.53 -0.7,0.48
-0.4,0.48 -0.1,0.48 0.2,0.47 -0.65,0.43 -0.35,0.43 -0.05,0.42 0.25,0.42 -0.6,0.38 -0.3,0.38 0.0,0.37
0.3,0.37 -0.55,0.33 -0.25,0.33 0.05,0.33 0.35,0.32 -0.45,0.28 -0.15,0.28 0.15,0.27 -0.4,0.23 -0.1,0.23
0.2,0.22 -0.35,0.18 -0.05,0.18 0.25,0.17 -0.3,0.13 0.0,0.13 0.25,0.12 -0.25,0.08 0.05,0.08 -0.15,0.03
0.15,0.04`;

// metabolite counts per class (Up, Down, Insignificant)
const countsE = [252, 152, 1013];
const countsF = [125, 332, 961];
const countsG = [339, 428, 653];
const countsH = [399, 342, 679];

const volcanoTitles = ["TML vs SWL", "TMR vs SWR", "SWL vs SWR", "TML vs TMR"];
const fcTicks = [-8, -4, -2, -1, 0, 1, 2, 4, 8];

// ---------- styling ----------
const FONT = '"Liberation Sans", Arial, Helvetica, sans-serif';
const BLUE = {pt: "#72abe0", stroke: "#8ec0ea", fill: "#dce9f8", text: "#8bbde8"};
const PINK = {pt: "#e26bb2", stroke: "#e987c1", fill: "#f9dcec", text: "#e577b8"};
const RED = "#d02a30", GREEN = "#2e7234", GREY = "#bdbdbd";

const page = document.getElementById("page");

function addDiv(cls, html, x, y, extra = {}) {
  const d = document.createElement("div");
  d.className = "abs " + cls;
  d.innerHTML = html;
  d.style.left = x + "px";
  d.style.top = y + "px";
  Object.assign(d.style, extra);
  page.appendChild(d);
  return d;
}

function place(svg, left, top) {
  svg.style.position = "absolute";
  svg.style.left = left + "px";
  svg.style.top = top + "px";
  svg.style.maxWidth = "none";
  page.appendChild(svg);
}

const pts = s => s.trim().split(/\s+/).map(p => {
  const [x, y] = p.split(",").map(Number);
  return {x, y};
});

function ellipseRing(e) {
  const n = 96;
  return d3.range(n).map(i => {
    const a = 2 * Math.PI * i / n;
    return {x: e.cx + e.ax * Math.cos(a) + e.bx * Math.sin(a),
            y: e.cy + e.ay * Math.cos(a) + e.by * Math.sin(a)};
  });
}

// ---------- OPLS-DA score plot ----------
function scorePlot(p) {
  const mL = 80, mT = 10, mR = 12, mB = 40;
  const fw = p.R - p.L, fh = p.B - p.T;
  const marks = [
    Plot.gridX(p.xTicks, {stroke: "#cfcfcf", strokeOpacity: 1, strokeDasharray: "3.5,3", strokeWidth: 0.8}),
    Plot.gridY(p.yTicks, {stroke: "#cfcfcf", strokeOpacity: 1, strokeDasharray: "3.5,3", strokeWidth: 0.8})
  ];
  for (const e of p.ellipses) {
    const c = p.colors[e.group];
    marks.push(Plot.line(ellipseRing(e), {x: "x", y: "y", curve: "linear-closed",
      stroke: c.stroke, fill: c.fill, fillOpacity: 0.75, strokeWidth: 0.9}));
  }
  for (const s of p.samples) {
    const c = p.colors[s.group];
    marks.push(Plot.dot([s], {x: "t", y: "o", r: 3.3, fill: c.pt, stroke: "none"}));
  }
  for (const s of p.samples) {
    const c = p.colors[s.group];
    const [dx, dy] = p.labelOffsets[s.id];
    marks.push(Plot.text([s], {x: "t", y: "o", text: "id", dx, dy, textAnchor: "start",
      fill: c.text, fontSize: 10, lineAnchor: "middle"}));
  }
  marks.push(
    Plot.frame({stroke: "#a8a8a8", strokeWidth: 1}),
    Plot.axisX(p.xTicks, {tickSize: 0, tickPadding: 4, fontSize: 10, fontWeight: "bold", fill: "#1a1a1a", label: null}),
    Plot.axisY(p.yTicks, {tickSize: 0, tickPadding: 4, fontSize: 10, fontWeight: "bold", fill: "#1a1a1a", label: null}),
    Plot.text([p.xTitle], {text: d => d, frameAnchor: "bottom", dy: p.xTitleY - p.B, lineAnchor: "middle",
      textAnchor: "middle", fontSize: 9, fontWeight: "bold", fill: "#2a2a2a"}),
    Plot.text([p.yTitle], {text: d => d, frameAnchor: "left", dx: p.yTitleX - p.L, rotate: -90, lineAnchor: "middle",
      textAnchor: "middle", fontSize: 8.3, fontWeight: "bold", fill: "#2a2a2a"})
  );
  const svg = Plot.plot({
    width: mL + fw + mR, height: mT + fh + mB,
    marginLeft: mL, marginRight: mR, marginTop: mT, marginBottom: mB,
    x: {domain: p.xDomain}, y: {domain: p.yDomain},
    style: {background: "transparent", overflow: "visible", fontFamily: FONT},
    marks
  });
  place(svg, p.L - mL, p.T - mT);
  addDiv("letter", p.letter, p.letterX, p.letterY);
}

// ---------- VIP volcano plot ----------
function volcano(p) {
  const mL = 80, mT = 8, mR = 8, mB = 30;
  const fw = p.R - p.L, fh = p.B - p.T;
  const up = pts(p.up), down = pts(p.down), ns = pts(p.ns);
  // only the fold-change ticks that fall inside this panel's range
  const xt = fcTicks.filter(v => v >= p.xDomain[0] && v <= p.xDomain[1]);
  const svg = Plot.plot({
    width: mL + fw + mR, height: mT + fh + mB,
    marginLeft: mL, marginRight: mR, marginTop: mT, marginBottom: mB,
    x: {domain: p.xDomain}, y: {domain: p.yDomain},
    style: {background: "transparent", overflow: "visible", fontFamily: FONT},
    marks: [
      Plot.gridY(p.yMinor, {stroke: "#f1f1f1", strokeOpacity: 1, strokeWidth: 0.6}),
      Plot.gridY(p.yTicks, {stroke: "#e4e4e4", strokeOpacity: 1, strokeWidth: 0.8}),
      Plot.gridX(xt.filter(v => Math.abs(v) !== 1), {stroke: "#e4e4e4", strokeOpacity: 1, strokeWidth: 0.8}),
      Plot.dot(ns, {x: "x", y: "y", r: 1.5, fill: GREY, clip: true}),
      Plot.dot(down, {x: "x", y: "y", r: 1.5, fill: GREEN, clip: true}),
      Plot.dot(up, {x: "x", y: "y", r: 1.5, fill: RED, clip: true}),
      Plot.ruleY([1], {stroke: "#4a4a4a", strokeDasharray: "4,3", strokeWidth: 0.9}),
      Plot.ruleX([-1, 1], {stroke: "#4a4a4a", strokeDasharray: "4,3", strokeWidth: 0.9}),
      Plot.frame({stroke: "#b5b5b5", strokeWidth: 1}),
      Plot.axisX(xt, {tickSize: 2, tickPadding: 1, fontSize: 7, fill: "#5a5a5a", stroke: "#8a8a8a",
        tickFormat: d => String(d), label: null}),
      Plot.axisY(p.yTicks, {tickSize: 2, tickPadding: 3, fontSize: 7, fill: "#5a5a5a", stroke: "#8a8a8a",
        tickFormat: p.yFormat, label: null}),
      Plot.text(["Log\u2082(Fold Change)"], {text: d => d, frameAnchor: "bottom", dy: p.xTitleY - p.B,
        dx: p.xTitleX - (p.L + p.R) / 2, lineAnchor: "middle", textAnchor: "middle", fontSize: 8.6, fill: "#1f1f1f"}),
      Plot.text(["Variable Importance in Projection (VIP)"], {text: d => d, frameAnchor: "left",
        dx: p.yTitleX - p.L, rotate: -90, lineAnchor: "middle", textAnchor: "middle", fontSize: 8.7, fill: "#1f1f1f"})
    ]
  });
  place(svg, p.L - mL, p.T - mT);
  addDiv("letter", p.letter, p.letterX, p.letterY);
  addDiv("vtitle", p.title, p.titleX, p.titleY);

  // legend
  const lg = p.legend;
  addDiv("leg", "Statistics", lg.x, lg.y, {fontSize: "9px"});
  const rows = [["Up", p.counts[0], RED], ["Down", p.counts[1], GREEN], ["Insignificant", p.counts[2], GREY]];
  rows.forEach(([name, n, col], i) => {
    const yy = lg.y + 12.5 + i * 10.6;
    addDiv("legdot", "", lg.dotX, yy, {background: col});
    addDiv("leg", `${name}: ${n}`, lg.textX, yy);
  });
}

// ---------- panels ----------
scorePlot({
  letter: "A", letterX: 12, letterY: 17,
  L: 84, R: 348, T: 37, B: 247,
  xDomain: [-40, 40], yDomain: [-200, 200],
  xTicks: [-40, -20, 0, 20, 40], yTicks: [-200, -100, 0, 100, 200],
  xTitle: `T score[1] ( ${varianceT[0]} )`, yTitle: `Orthogonal T score[1] ( ${varianceO[0]} )`,
  xTitleY: 268, yTitleX: 45,
  samples: samplesA, ellipses: ellipsesA, colors: {SWL: BLUE, TML: PINK},
  labelOffsets: {"SWL-3": [-1.5, -12], "SWL-1": [7, 0], "SWL-2": [7, 4],
                 "TML-3": [3, -11], "TML-2": [6, -1], "TML-1": [8, 5]}
});
scorePlot({
  letter: "B", letterX: 12, letterY: 297,
  L: 85, R: 348, T: 320, B: 537,
  xDomain: [-40, 40], yDomain: [-250, 250],
  xTicks: [-40, -20, 0, 20, 40], yTicks: [-200, -100, 0, 100, 200],
  xTitle: `T score[1] ( ${varianceT[1]} )`, yTitle: `Orthogonal T score[1] ( ${varianceO[1]} )`,
  xTitleY: 557, yTitleX: 47,
  samples: samplesB, ellipses: ellipsesB, colors: {SWR: BLUE, TMR: PINK},
  labelOffsets: {"SWR-2": [8, -15], "SWR-1": [6, 3], "SWR-3": [-6, 19],
                 "TMR-3": [3, -7], "TMR-2": [7, 8], "TMR-1": [5, 10]}
});
scorePlot({
  letter: "C", letterX: 19, letterY: 583,
  L: 89, R: 348, T: 599, B: 819,
  xDomain: [-50, 50], yDomain: [-200, 200],
  xTicks: [-40, -20, 0, 20, 40], yTicks: [-200, -100, 0, 100, 200],
  xTitle: `T score[1] ( ${varianceT[2]} )`, yTitle: `Orthogonal T score[1] ( ${varianceO[2]} )`,
  xTitleY: 843, yTitleX: 51,
  samples: samplesC, ellipses: ellipsesC, colors: {SWL: PINK, SWR: BLUE},
  labelOffsets: {"SWL-2": [7, 0], "SWL-3": [8, 1], "SWL-1": [7, 11],
                 "SWR-2": [0, -14], "SWR-1": [7, 1], "SWR-3": [7, 12]}
});
scorePlot({
  letter: "D", letterX: 21, letterY: 871,
  L: 89, R: 348, T: 887, B: 1086,
  xDomain: [-40, 40], yDomain: [-120, 120],
  xTicks: [-40, -20, 0, 20, 40], yTicks: [-100, -50, 0, 50, 100],
  xTitle: `T score[1] ( ${varianceT[3]} )`, yTitle: `Orthogonal T score[1] ( ${varianceO[3]} )`,
  xTitleY: 1107, yTitleX: 50,
  samples: samplesD, ellipses: ellipsesD, colors: {TML: PINK, TMR: BLUE},
  labelOffsets: {"TML-1": [6, 0], "TML-2": [7, 0], "TML-3": [7, 8],
                 "TMR-2": [6, -5], "TMR-3": [7, 0], "TMR-1": [8, 0]}
});

const fmt1 = d3.format(".1f"), fmt2 = d3.format(".2f");
volcano({
  letter: "E", letterX: 394, letterY: 17, title: volcanoTitles[0], titleX: 567, titleY: 20,
  L: 443, R: 675, T: 33, B: 255,
  xDomain: [-9.2, 10.8], yDomain: [-0.08, 1.67],
  yTicks: [0, 0.5, 1, 1.5], yMinor: [0.25, 0.75, 1.25], yFormat: fmt1,
  xTitleX: 558, xTitleY: 268, yTitleX: 427,
  up: upE, down: downE, ns: nsE, counts: countsE,
  legend: {x: 685, y: 127, dotX: 689, textX: 697.5}
});
volcano({
  letter: "F", letterX: 394, letterY: 294, title: volcanoTitles[1], titleX: 559, titleY: 306,
  L: 443, R: 674, T: 318, B: 537,
  xDomain: [-6.8, 8.7], yDomain: [-0.075, 1.568],
  yTicks: [0, 0.5, 1, 1.5], yMinor: [0.25, 0.75, 1.25], yFormat: fmt1,
  xTitleX: 558, xTitleY: 551, yTitleX: 427,
  up: upF, down: downF, ns: nsF, counts: countsF,
  legend: {x: 683, y: 411, dotX: 687.5, textX: 696}
});
volcano({
  letter: "G", letterX: 394, letterY: 583, title: volcanoTitles[2], titleX: 562, titleY: 589,
  L: 446, R: 676, T: 601, B: 818,
  xDomain: [-12.3, 9.8], yDomain: [-0.056, 1.281],
  yTicks: [0, 0.25, 0.5, 0.75, 1, 1.25], yMinor: [], yFormat: fmt2,
  xTitleX: 561, xTitleY: 833, yTitleX: 425,
  up: upG, down: downG, ns: nsG, counts: countsG,
  legend: {x: 685, y: 693, dotX: 689.5, textX: 698}
});
volcano({
  letter: "H", letterX: 396, letterY: 872, title: volcanoTitles[3], titleX: 561, titleY: 873,
  L: 449, R: 676, T: 885, B: 1093,
  xDomain: [-12.3, 12.6], yDomain: [-0.069, 1.365],
  yTicks: [0, 0.5, 1], yMinor: [0.25, 0.75, 1.25], yFormat: fmt1,
  xTitleX: 562, xTitleY: 1106, yTitleX: 432,
  up: upH, down: downH, ns: nsH, counts: countsH,
  legend: {x: 685, y: 973, dotX: 689, textX: 697.5}
});
</script>
</body>
</html>
